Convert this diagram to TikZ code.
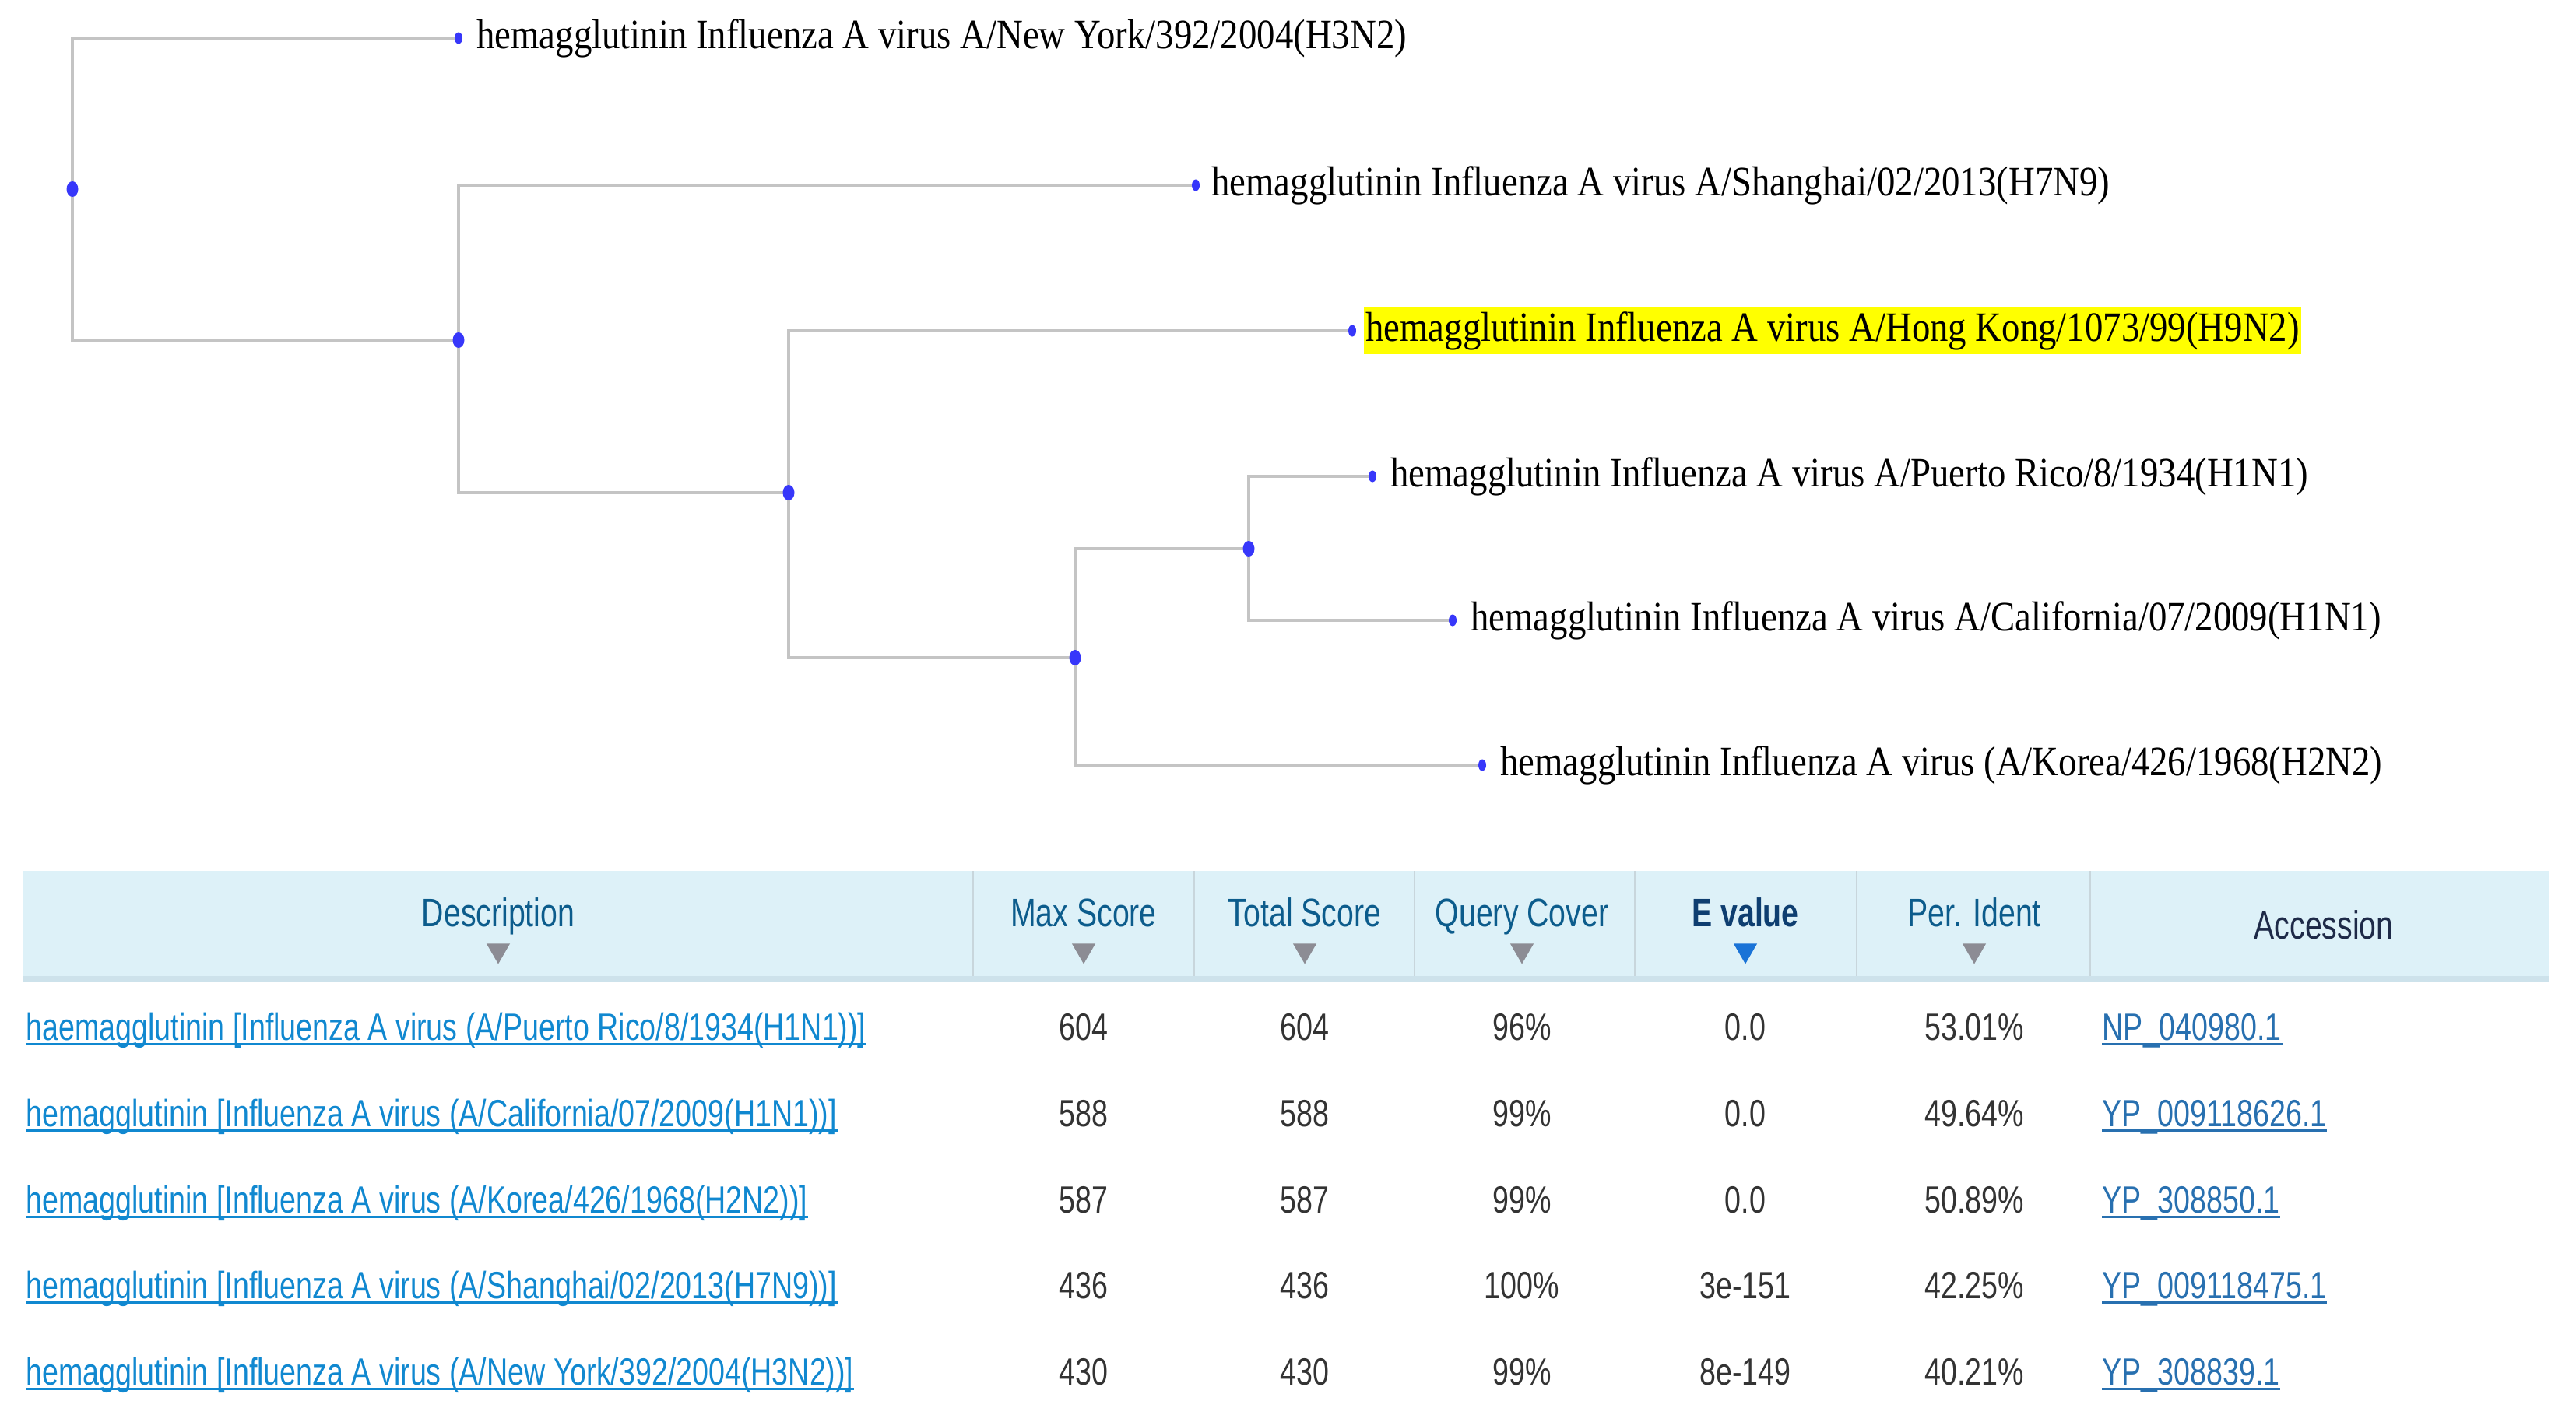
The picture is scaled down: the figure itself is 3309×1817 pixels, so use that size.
\documentclass[tikz,border=0pt]{standalone}
\usepackage{fontspec}
\usepackage{tikz}
\usetikzlibrary{shapes,positioning,backgrounds}
\newfontfamily\treefont[FakeStretch=0.87]{Liberation Serif}
\newfontfamily\tabfont[FakeStretch=0.77]{Liberation Sans}
\definecolor{dotblue}{RGB}{55,55,250}
\definecolor{branchgray}{RGB}{196,196,196}
\definecolor{hiyellow}{RGB}{255,255,0}
\definecolor{headbg}{RGB}{221,241,248}
\definecolor{headrule}{RGB}{205,226,235}
\definecolor{colsep}{RGB}{200,214,220}
\definecolor{headblue}{RGB}{12,92,140}
\definecolor{evalblue}{RGB}{14,62,112}
\definecolor{accdark}{RGB}{30,42,72}
\definecolor{sortgray}{RGB}{140,140,148}
\definecolor{sortblue}{RGB}{25,115,215}
\definecolor{linkblue}{RGB}{16,136,208}
\definecolor{accblue}{RGB}{40,112,176}
\definecolor{numgray}{RGB}{51,51,51}

\begin{document}
\begin{tikzpicture}[x=0.1mm, y=-0.1mm, node distance=11.075mm,
    innerdot/.style={ellipse, fill=dotblue, inner sep=0pt, minimum width=1.5mm, minimum height=2mm},
    leafdot/.style={innerdot, minimum width=1mm, minimum height=1.5mm},
    strain/.style={font=\treefont\fontsize{15.3pt}{18pt}\selectfont, inner sep=0pt},
    querylab/.style={strain, fill=hiyellow, inner xsep=0.2mm, inner ysep=0.5mm},
    branch/.style={draw=branchgray, line width=0.4mm},
    colhead/.style={font=\tabfont\fontsize{14.5pt}{17pt}\selectfont, text=headblue, inner sep=0pt, text height=10.4pt, text depth=0pt},
    sortmark/.style={regular polygon, regular polygon sides=3, shape border rotate=180, fill=sortgray, inner sep=0pt, minimum size=3.5mm},
    cell/.style={font=\tabfont\fontsize{13.9pt}{17pt}\selectfont, text=numgray, inner sep=0pt, text height=10pt, text depth=0pt},
    desc/.style={cell, anchor=west, text=linkblue},
    acc/.style={cell, anchor=west, text=accblue},
    uline/.style={line width=0.3mm}]
      \useasboundingbox (0,0) rectangle (3309,1817);

      % tree
      \node[innerdot] (root) at (93,243) {};
      \node[innerdot] (nA) at (589,437) {};
      \node[innerdot] (nB) at (1013,633) {};
      \node[innerdot] (nC) at (1381,845) {};
      \node[innerdot] (nD) at (1604,705) {};

      \node[leafdot] (NY) at (589,49) {};
      \node[leafdot] (SH) at (1536,238) {};
      \node[leafdot] (HK) at (1737,425) {};
      \node[leafdot] (PR) at (1763,612) {};
      \node[leafdot] (CA) at (1866,797) {};
      \node[leafdot] (KO) at (1904,983) {};

      \node[strain, right=1.7mm of NY] (NYlab) {hemagglutinin Influenza A virus A/New York/392/2004(H3N2)};
      \node[strain, right=1.4mm of SH] (SHlab) {hemagglutinin Influenza A virus A/Shanghai/02/2013(H7N9)};
      \node[querylab, right=0.9mm of HK] (HKlab) {hemagglutinin Influenza A virus A/Hong Kong/1073/99(H9N2)};
      \node[strain, right=1.7mm of PR] (PRlab) {hemagglutinin Influenza A virus A/Puerto Rico/8/1934(H1N1)};
      \node[strain, right=1.7mm of CA] (CAlab) {hemagglutinin Influenza A virus A/California/07/2009(H1N1)};
      \node[strain, right=1.7mm of KO] (KOlab) {hemagglutinin Influenza A virus (A/Korea/426/1968(H2N2)};

      \begin{scope}[on background layer]
      \draw[branch] (NY.center) -| (root.center) |- (nA.center);
      \draw[branch] (SH.center) -| (nA.center) |- (nB.center);
      \draw[branch] (HK.center) -| (nB.center) |- (nC.center);
      \draw[branch] (nD.center) -| (nC.center) |- (KO.center);
      \draw[branch] (PR.center) -| (nD.center) |- (CA.center);
      \end{scope}

      % table head
      \fill[headbg] (30,1119) rectangle (3274,1262);
      \fill[headrule] (30,1254) rectangle (3274,1262);
      \draw[colsep, line width=0.2mm] (1250,1119) -- (1250,1254);
      \draw[colsep, line width=0.2mm] (1534,1119) -- (1534,1254);
      \draw[colsep, line width=0.2mm] (1817,1119) -- (1817,1254);
      \draw[colsep, line width=0.2mm] (2100,1119) -- (2100,1254);
      \draw[colsep, line width=0.2mm] (2385,1119) -- (2385,1254);
      \draw[colsep, line width=0.2mm] (2685,1119) -- (2685,1254);

      \node[colhead] (hDesc) at (640,1172) {Description};
      \node[colhead] (hMax) at (1392,1172) {Max Score};
      \node[colhead] (hTotal) at (1676,1172) {Total Score};
      \node[colhead] (hQuery) at (1955,1172) {Query Cover};
      \node[colhead, text=evalblue] (hEval) at (2242,1172) {\bfseries E value};
      \node[colhead] (hIdent) at (2536,1172) {Per. Ident};
      \node[colhead, text=accdark] (hAcc) at (2985,1188) {Accession};

      \node[sortmark, node distance=4.9mm, below of=hDesc] (sDesc) {};
      \node[sortmark, node distance=4.9mm, below of=hMax] (sMax) {};
      \node[sortmark, node distance=4.9mm, below of=hTotal] (sTotal) {};
      \node[sortmark, node distance=4.9mm, below of=hQuery] (sQuery) {};
      \node[sortmark, node distance=4.9mm, below of=hEval, fill=sortblue] (sEval) {};
      \node[sortmark, node distance=4.9mm, below of=hIdent] (sIdent) {};

      % hits
      \node[desc] (d1) at (33,1319) {haemagglutinin [Influenza A virus (A/Puerto Rico/8/1934(H1N1))]};
      \node[below=11.075mm of d1.west, desc] (d2) {hemagglutinin [Influenza A virus (A/California/07/2009(H1N1))]};
      \node[below=11.075mm of d2.west, desc] (d3) {hemagglutinin [Influenza A virus (A/Korea/426/1968(H2N2))]};
      \node[below=11.075mm of d3.west, desc] (d4) {hemagglutinin [Influenza A virus (A/Shanghai/02/2013(H7N9))]};
      \node[below=11.075mm of d4.west, desc] (d5) {hemagglutinin [Influenza A virus (A/New York/392/2004(H3N2))]};

      \node[cell, node distance=14.7mm, below of=hMax] (max1) {604};
      \node[cell, below of=max1] (max2) {588};
      \node[cell, below of=max2] (max3) {587};
      \node[cell, below of=max3] (max4) {436};
      \node[cell, below of=max4] (max5) {430};

      \node[cell, node distance=14.7mm, below of=hTotal] (tot1) {604};
      \node[cell, below of=tot1] (tot2) {588};
      \node[cell, below of=tot2] (tot3) {587};
      \node[cell, below of=tot3] (tot4) {436};
      \node[cell, below of=tot4] (tot5) {430};

      \node[cell, node distance=14.7mm, below of=hQuery] (cov1) {96\%};
      \node[cell, below of=cov1] (cov2) {99\%};
      \node[cell, below of=cov2] (cov3) {99\%};
      \node[cell, below of=cov3] (cov4) {100\%};
      \node[cell, below of=cov4] (cov5) {99\%};

      \node[cell, node distance=14.7mm, below of=hEval] (ev1) {0.0};
      \node[cell, below of=ev1] (ev2) {0.0};
      \node[cell, below of=ev2] (ev3) {0.0};
      \node[cell, below of=ev3] (ev4) {3e-151};
      \node[cell, below of=ev4] (ev5) {8e-149};

      \node[cell, node distance=14.7mm, below of=hIdent] (id1) {53.01\%};
      \node[cell, below of=id1] (id2) {49.64\%};
      \node[cell, below of=id2] (id3) {50.89\%};
      \node[cell, below of=id3] (id4) {42.25\%};
      \node[cell, below of=id4] (id5) {40.21\%};

      \node[acc] (a1) at (2700,1319) {NP\_040980.1};
      \node[below=11.075mm of a1.west, acc] (a2) {YP\_009118626.1};
      \node[below=11.075mm of a2.west, acc] (a3) {YP\_308850.1};
      \node[below=11.075mm of a3.west, acc] (a4) {YP\_009118475.1};
      \node[below=11.075mm of a4.west, acc] (a5) {YP\_308839.1};

      \draw[uline, linkblue] ([yshift=-0.5mm]d1.base west) -- ([yshift=-0.5mm]d1.base east);
      \draw[uline, linkblue] ([yshift=-0.5mm]d2.base west) -- ([yshift=-0.5mm]d2.base east);
      \draw[uline, linkblue] ([yshift=-0.5mm]d3.base west) -- ([yshift=-0.5mm]d3.base east);
      \draw[uline, linkblue] ([yshift=-0.5mm]d4.base west) -- ([yshift=-0.5mm]d4.base east);
      \draw[uline, linkblue] ([yshift=-0.5mm]d5.base west) -- ([yshift=-0.5mm]d5.base east);
      \draw[uline, accblue] ([yshift=-0.5mm]a1.base west) -- ([yshift=-0.5mm]a1.base east);
      \draw[uline, accblue] ([yshift=-0.5mm]a2.base west) -- ([yshift=-0.5mm]a2.base east);
      \draw[uline, accblue] ([yshift=-0.5mm]a3.base west) -- ([yshift=-0.5mm]a3.base east);
      \draw[uline, accblue] ([yshift=-0.5mm]a4.base west) -- ([yshift=-0.5mm]a4.base east);
      \draw[uline, accblue] ([yshift=-0.5mm]a5.base west) -- ([yshift=-0.5mm]a5.base east);
\end{tikzpicture}
\end{document}
